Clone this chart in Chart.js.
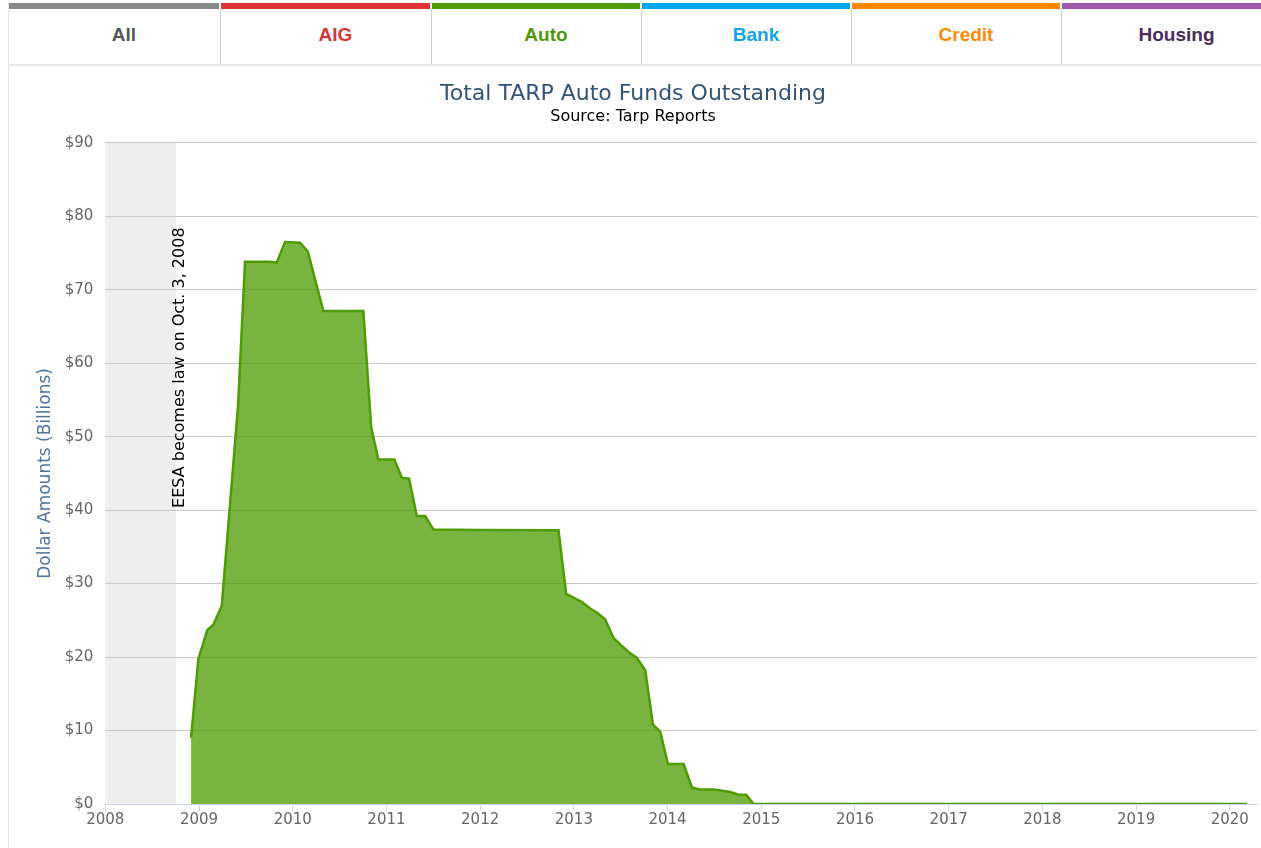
<!DOCTYPE html>
<html>
<head>
<meta charset="utf-8">
<script src="https://cdn.jsdelivr.net/npm/chart.js@4.4.1/dist/chart.umd.min.js"></script>
<style>
  html, body { margin: 0; padding: 0; background: #ffffff; width: 1261px; height: 848px; overflow: hidden; }
  #panel { position: absolute; left: 8px; top: 3px; width: 1253px; height: 845px; border-left: 1px solid #e3e3e3; }
  .tab { position: absolute; top: 3px; height: 56px; border-top: 6px solid #888; font-family: "Liberation Sans", Arial, sans-serif; font-weight: bold; font-size: 19px; line-height: 51px; text-align: center; box-sizing: content-box; }
  .div { position: absolute; top: 9px; height: 55px; width: 1px; background: #d0d0d0; }
  #tabline { position: absolute; left: 9px; top: 64px; width: 1252px; height: 2px; background: #e6e6e6; }
  #wrap { position: absolute; left: 9px; top: 66px; width: 1252px; height: 782px; }
</style>
</head>
<body>
<div id="panel"></div>
<div id="tabs"></div>
<div id="tabline"></div>
<div id="wrap"><canvas id="c" width="1252" height="782"></canvas></div>
<script>
// ---- data ----
const tabNames  = ["All", "AIG", "Auto", "Bank", "Credit", "Housing"];
const tabText   = ["#555555", "#dd3333", "#4c9a06", "#10a4ef", "#ff8a00", "#4a2c5c"];
const tabStripe = ["#888888", "#dd3333", "#4c9a00", "#00a8f0", "#ff8800", "#9b59a6"];

const years = [
  2008.915, 2008.993, 2009.089, 2009.153, 2009.243, 2009.417, 2009.491, 2009.751, 2009.830,
  2009.918, 2010.079, 2010.161, 2010.327, 2010.754, 2010.837, 2010.914, 2011.085, 2011.164,
  2011.242, 2011.324, 2011.413, 2011.502, 2011.990, 2012.836, 2012.918, 2012.996, 2013.086,
  2013.175, 2013.252, 2013.335, 2013.423, 2013.513, 2013.594, 2013.673, 2013.762, 2013.844,
  2013.922, 2014.004, 2014.171, 2014.260, 2014.341, 2014.498, 2014.669, 2014.758, 2014.840,
  2014.918, 2020.185
];
const outstanding = [
  9.0, 19.75, 23.7, 24.4, 27.0, 54.3, 73.8, 73.8, 73.7,
  76.5, 76.4, 75.2, 67.1, 67.1, 51.3, 46.9, 46.9, 44.4,
  44.3, 39.2, 39.2, 37.35, 37.3, 37.25, 28.6, 28.1, 27.5,
  26.6, 26.0, 25.1, 22.6, 21.5, 20.6, 19.9, 18.2, 10.8,
  9.85, 5.45, 5.45, 2.26, 1.99, 1.99, 1.63, 1.27, 1.27,
  0, 0
];
const yTicks = [0, 10, 20, 30, 40, 50, 60, 70, 80, 90];
const xTicks = [2008, 2009, 2010, 2011, 2012, 2013, 2014, 2015, 2016, 2017, 2018, 2019, 2020];
const eesaDate = 2008.755;   // Oct. 3, 2008
const eesaLabel = "EESA becomes law on Oct. 3, 2008";

// ---- tabs ----
const tabLefts  = [9, 221, 432, 642, 852, 1062];
const tabRights = [220, 431, 641, 851, 1061, 1261];
const labelShift = [10, 10, 10, 10, 10, 15];
const tabsEl = document.getElementById('tabs');
tabNames.forEach((n, i) => {
  const d = document.createElement('div');
  d.className = 'tab';
  d.style.left = tabLefts[i] + 'px';
  d.style.width = (tabRights[i] - tabLefts[i] - (i < 5 ? 1 : 0)) + 'px';
  d.style.borderTopColor = tabStripe[i];
  d.style.color = tabText[i];
  d.innerHTML = '<span style="position:relative;left:' + labelShift[i] + 'px">' + n + '</span>';
  tabsEl.appendChild(d);
  if (i < 5) {
    const s = document.createElement('div');
    s.className = 'div';
    s.style.left = (tabRights[i]) + 'px';
    tabsEl.appendChild(s);
  }
});

// ---- chart ----
Chart.defaults.font.family = '"DejaVu Sans", Verdana, sans-serif';
Chart.defaults.color = '#666666';

const bandPlugin = {
  id: 'band',
  beforeDraw(chart) {
    const {ctx, chartArea, scales: {x}} = chart;
    const x0 = x.getPixelForValue(x.min);
    const x1 = x.getPixelForValue(eesaDate);
    ctx.save();
    ctx.fillStyle = '#eeeeee';
    ctx.fillRect(x0, chartArea.top, x1 - x0, chartArea.bottom - chartArea.top);
    ctx.restore();
  },
  afterDatasetsDraw(chart) {
    const {ctx, scales: {x, y}} = chart;
    const px = x.getPixelForValue(eesaDate) + 8;
    const py = y.getPixelForValue(40.3);
    ctx.save();
    ctx.translate(px, py);
    ctx.rotate(-Math.PI / 2);
    ctx.font = '16px "DejaVu Sans", Verdana, sans-serif';
    ctx.fillStyle = '#000000';
    ctx.textAlign = 'left';
    ctx.textBaseline = 'alphabetic';
    ctx.fillText(eesaLabel, 0, 0);
    ctx.restore();
  }
};

new Chart(document.getElementById('c'), {
  type: 'line',
  data: {
    datasets: [{
      label: 'Auto',
      data: years.map((yr, i) => ({x: yr, y: outstanding[i]})),
      borderColor: '#4e9c02',
      backgroundColor: 'rgba(76,154,0,0.75)',
      borderWidth: 2.5,
      pointRadius: 0,
      pointHoverRadius: 0,
      tension: 0,
      fill: 'origin'
    }]
  },
  options: {
    responsive: false,
    animation: false,
    events: [],
    layout: { padding: { left: 0, right: 4, top: 0, bottom: 0 } },
    plugins: {
      legend: { display: false },
      tooltip: { enabled: false },
      title: {
        display: true,
        text: 'Total TARP Auto Funds Outstanding',
        color: '#345578',
        font: { size: 22, weight: 'normal' },
        padding: { top: 15, bottom: 0 }
      },
      subtitle: {
        display: true,
        text: 'Source: Tarp Reports',
        color: '#000000',
        font: { size: 16, weight: 'normal' },
        padding: { top: 0, bottom: 16.2 }
      }
    },
    scales: {
      x: {
        type: 'linear',
        min: xTicks[0],
        max: 2020.29,
        afterBuildTicks(scale) { scale.ticks = xTicks.map(v => ({value: v})); },
        afterFit(scale) { scale.height = 44; },
        ticks: {
          autoSkip: false,
          maxRotation: 0,
          padding: 0,
          color: '#666666',
          font: { size: 15 },
          callback: v => String(v)
        },
        grid: {
          drawOnChartArea: false,
          drawTicks: true,
          tickLength: 7,
          tickColor: '#ccd6eb'
        },
        border: { display: true, color: '#ccd6eb', width: 1 }
      },
      y: {
        min: 0,
        max: 90,
        afterBuildTicks(scale) { scale.ticks = yTicks.map(v => ({value: v})); },
        afterFit(scale) { scale.width = 96.3; },
        ticks: {
          padding: 12,
          color: '#666666',
          font: { size: 15 },
          callback: v => '$' + v
        },
        grid: { color: '#c8c8c8', lineWidth: 1, drawTicks: false },
        border: { display: false },
        title: {
          display: true,
          text: 'Dollar Amounts (Billions)',
          color: '#4d759e',
          font: { size: 17 },
          padding: { top: 26, bottom: 0 }
        }
      }
    }
  },
  plugins: [bandPlugin]
});
</script>
</body>
</html>
